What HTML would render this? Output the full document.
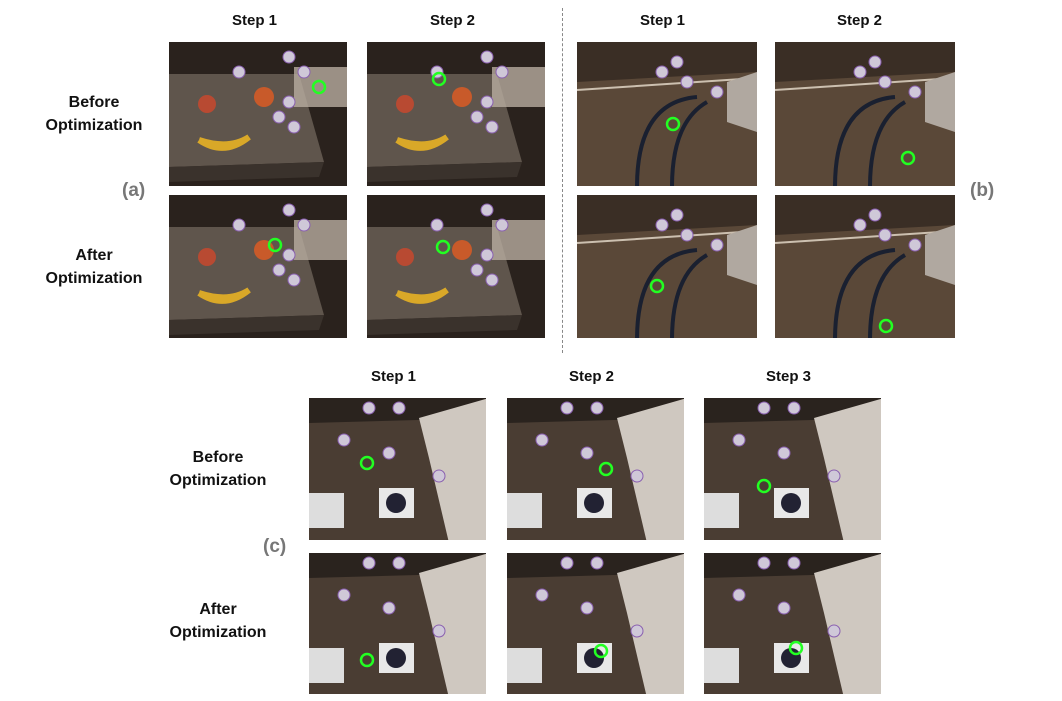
<!DOCTYPE html>
<html><head><style>
body{margin:0;width:1062px;height:701px;background:#fff;position:relative;overflow:hidden;font-family:"Liberation Sans",sans-serif}
.t{position:absolute;font-weight:bold;font-size:15px;color:#111;text-align:center;white-space:nowrap}
.l{position:absolute;font-weight:bold;font-size:16px;color:#111;text-align:center;line-height:23px;width:140px}
.p{position:absolute;font-weight:bold;font-size:19px;color:#777}
.im{position:absolute;overflow:hidden}
.im svg{display:block}
</style></head><body>
<div class="t" style="left:232px;top:12px">Step 1</div>
<div class="t" style="left:430px;top:12px">Step 2</div>
<div class="t" style="left:640px;top:12px">Step 1</div>
<div class="t" style="left:837px;top:12px">Step 2</div>
<div class="t" style="left:371px;top:368px">Step 1</div>
<div class="t" style="left:569px;top:368px">Step 2</div>
<div class="t" style="left:766px;top:368px">Step 3</div>
<div class="l" style="left:24px;top:91px">Before<br>Optimization</div>
<div class="l" style="left:24px;top:244px">After<br>Optimization</div>
<div class="l" style="left:148px;top:446px">Before<br>Optimization</div>
<div class="l" style="left:148px;top:598px">After<br>Optimization</div>
<div class="p" style="left:122px;top:180px">(a)</div>
<div class="p" style="left:970px;top:180px">(b)</div>
<div class="p" style="left:263px;top:536px">(c)</div>
<div style="position:absolute;left:562px;top:8px;height:345px;border-left:1px dashed #888"></div>

<svg width="0" height="0" style="position:absolute">
<defs>
<g id="A">
<rect width="180" height="145" fill="#2a221d"/>
<polygon points="0,32 130,32 155,120 0,125" fill="#5f554c"/>
<polygon points="0,125 155,120 150,135 0,140" fill="#3a322c"/>
<circle cx="38" cy="62" r="9" fill="#b84a32"/>
<path d="M30,98 Q55,115 80,95 Q60,108 30,98" fill="#e0b030" stroke="#d9a828" stroke-width="6"/>
<rect x="125" y="25" width="55" height="40" fill="#b8aca0" opacity=".8"/>
<circle cx="95" cy="55" r="10" fill="#c85a2a"/>
<g fill="#cfc8d8" stroke="#8a60b0" stroke-width="1"><circle cx="70" cy="30" r="6"/><circle cx="120" cy="15" r="6"/><circle cx="120" cy="60" r="6"/><circle cx="110" cy="75" r="6"/><circle cx="125" cy="85" r="6"/><circle cx="135" cy="30" r="6"/></g>
</g>
<g id="B">
<rect width="180" height="145" fill="#5a4838"/>
<polygon points="0,0 180,0 180,30 0,40" fill="#3a2e25"/>
<line x1="0" y1="48" x2="180" y2="36" stroke="#ccc0b0" stroke-width="2"/>
<path d="M60,145 Q60,60 120,55" stroke="#1a2030" stroke-width="4" fill="none"/>
<path d="M95,145 Q95,80 130,60" stroke="#1a2030" stroke-width="4" fill="none"/>
<polygon points="150,40 180,30 180,90 150,80" fill="#b0a8a0"/>
<g fill="#cfc8d8" stroke="#8a60b0"><circle cx="100" cy="20" r="6"/><circle cx="110" cy="40" r="6"/><circle cx="85" cy="30" r="6"/><circle cx="140" cy="50" r="6"/></g>
</g>
<g id="C">
<rect width="180" height="145" fill="#4a3d33"/>
<polygon points="0,0 180,0 180,20 0,25" fill="#2a231e"/>
<polygon points="110,20 180,0 180,145 140,145 120,60" fill="#cfc8c0"/>
<rect x="0" y="95" width="35" height="35" fill="#ddd" /><rect x="70" y="90" width="35" height="30" fill="#e8e8e8"/>
<circle cx="87" cy="105" r="10" fill="#223"/>
<g fill="#cfc8d8" stroke="#8a60b0"><circle cx="60" cy="10" r="6"/><circle cx="90" cy="10" r="6"/><circle cx="35" cy="42" r="6"/><circle cx="130" cy="78" r="6"/><circle cx="80" cy="55" r="6"/></g>
</g>
</defs></svg>

<div class="im" style="left:169px;top:42px"><svg width="178" height="144"><use href="#A"/><circle cx="150" cy="45" r="6" fill="none" stroke="#2f2" stroke-width="2.5"/></svg></div>
<div class="im" style="left:367px;top:42px"><svg width="178" height="144"><use href="#A"/><circle cx="72" cy="37" r="6" fill="none" stroke="#2f2" stroke-width="2.5"/></svg></div>
<div class="im" style="left:169px;top:195px"><svg width="178" height="143"><use href="#A"/><circle cx="106" cy="50" r="6" fill="none" stroke="#2f2" stroke-width="2.5"/></svg></div>
<div class="im" style="left:367px;top:195px"><svg width="178" height="143"><use href="#A"/><circle cx="76" cy="52" r="6" fill="none" stroke="#2f2" stroke-width="2.5"/></svg></div>

<div class="im" style="left:577px;top:42px"><svg width="180" height="144"><use href="#B"/><circle cx="96" cy="82" r="6" fill="none" stroke="#2f2" stroke-width="2.5"/></svg></div>
<div class="im" style="left:775px;top:42px"><svg width="180" height="144"><use href="#B"/><circle cx="133" cy="116" r="6" fill="none" stroke="#2f2" stroke-width="2.5"/></svg></div>
<div class="im" style="left:577px;top:195px"><svg width="180" height="143"><use href="#B"/><circle cx="80" cy="91" r="6" fill="none" stroke="#2f2" stroke-width="2.5"/></svg></div>
<div class="im" style="left:775px;top:195px"><svg width="180" height="143"><use href="#B"/><circle cx="111" cy="131" r="6" fill="none" stroke="#2f2" stroke-width="2.5"/></svg></div>

<div class="im" style="left:309px;top:398px"><svg width="177" height="142"><use href="#C"/><circle cx="58" cy="65" r="6" fill="none" stroke="#2f2" stroke-width="2.5"/></svg></div>
<div class="im" style="left:507px;top:398px"><svg width="177" height="142"><use href="#C"/><circle cx="99" cy="71" r="6" fill="none" stroke="#2f2" stroke-width="2.5"/></svg></div>
<div class="im" style="left:704px;top:398px"><svg width="177" height="142"><use href="#C"/><circle cx="60" cy="88" r="6" fill="none" stroke="#2f2" stroke-width="2.5"/></svg></div>
<div class="im" style="left:309px;top:553px"><svg width="177" height="141"><use href="#C"/><circle cx="58" cy="107" r="6" fill="none" stroke="#2f2" stroke-width="2.5"/></svg></div>
<div class="im" style="left:507px;top:553px"><svg width="177" height="141"><use href="#C"/><circle cx="94" cy="98" r="6" fill="none" stroke="#2f2" stroke-width="2.5"/></svg></div>
<div class="im" style="left:704px;top:553px"><svg width="177" height="141"><use href="#C"/><circle cx="92" cy="95" r="6" fill="none" stroke="#2f2" stroke-width="2.5"/></svg></div>
</body></html>
